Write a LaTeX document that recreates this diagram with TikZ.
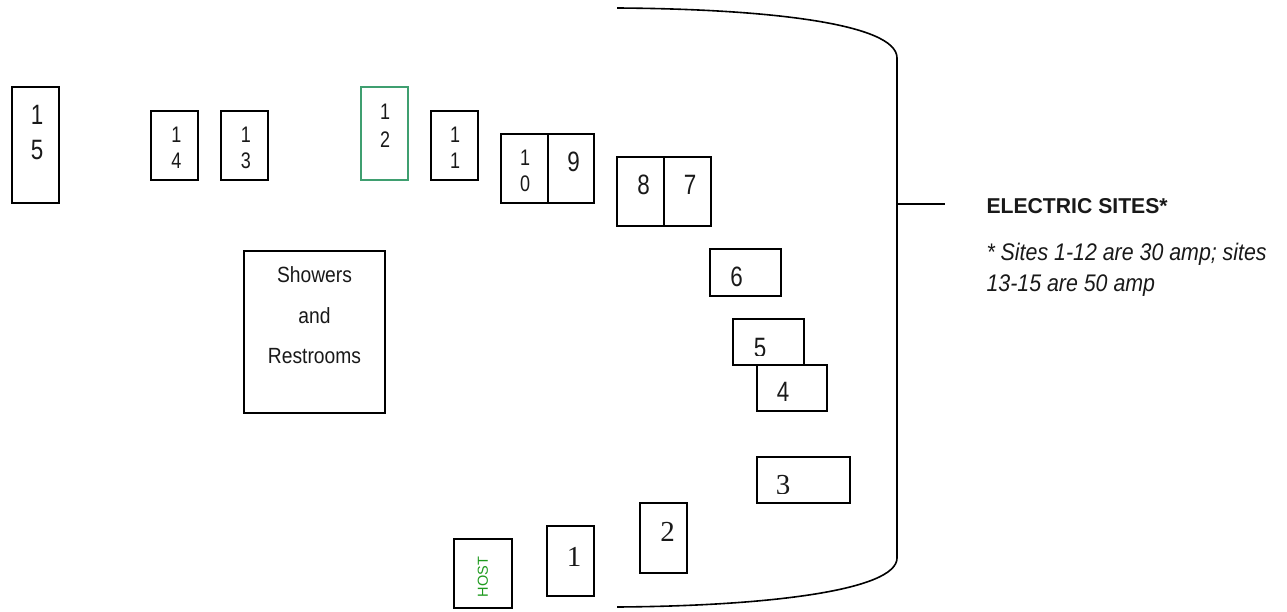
\documentclass[tikz,border=0pt]{standalone}
\usepackage{fontspec}
\usepackage{graphicx}
\setmainfont{Liberation Sans}
\newfontfamily\tnr{Liberation Serif}
\definecolor{sitegreen}{HTML}{3F9F70}
\definecolor{hostgreen}{HTML}{1E9A1E}
\newcommand{\nar}[1]{\scalebox{0.8}[1]{#1}}
\newcommand{\narr}[2]{\scalebox{#1}[1]{#2}}
\newcommand{\fs}[2]{\fontsize{#1}{#2}\selectfont}
% name, x1, y1, x2, y2, extra style
\newcommand{\bx}[6]{\node[sitebox,#6,minimum width={(#4-#2)*1pt},minimum height={(#5-#3)*1pt}] (#1) at ({(#2+#4)/2},{(#3+#5)/2}) {};}
% name, x, last baseline, size, leading, line1, line2
\newcommand{\twod}[7]{\node[numtext,align=center,font=\fs{#4}{#5}] (#1) at (#2,#3) {\nar{#6}\\\nar{#7}};}
% name, x, baseline, size, text
\newcommand{\oned}[5]{\node[numtext,font=\fs{#4}{#4}] (#1) at (#2,#3) {\nar{#5}};}
\newcommand{\serifd}[5]{\node[numtext,font=\fs{#4}{#4}\tnr] (#1) at (#2,#3) {#5};}
\tikzset{
  sitebox/.style={draw=black,line width=1.5pt,rectangle,inner sep=0pt,outer sep=0pt},
  numtext/.style={anchor=base,inner sep=0pt,outer sep=0pt,text=black!90},
  outline/.style={draw=black,line width=1.6pt}
}
\begin{document}
\begin{tikzpicture}[x=1pt,y=-1pt]
\useasboundingbox (0,0) rectangle (1287,612);
% outline
\draw[outline] (617,8) .. controls (770,9) and (897,24) .. (897,58) -- (897,558) .. controls (897,590) and (770,606) .. (617,607);
\coordinate (tap) at (897,204);
\coordinate (tapend) at (945,204);
\draw[outline] (tap) -- (tapend);
% boxes
\bx{s15}{12}{87}{59}{203}{}
\bx{s14}{151}{111}{198}{180}{}
\bx{s13}{221}{111}{268}{180}{}
\bx{s12}{361}{87}{408}{180}{draw=sitegreen}
\bx{s11}{431}{111}{478}{180}{}
\bx{s10}{501}{134}{548}{203}{}
\bx{s9}{548}{134}{594}{203}{}
\bx{s8}{617}{157}{664}{226}{}
\bx{s7}{664}{157}{711}{226}{}
\bx{s6}{710}{249}{781}{296}{}
\bx{s5}{733}{319}{804}{365}{}
\bx{s4}{757}{365}{827}{411}{}
\bx{s3}{757}{457}{850}{503}{}
\bx{s2}{640}{503}{687}{573}{}
\bx{s1}{547}{526}{594}{596}{}
\bx{host}{454}{539}{512}{608}{}
\bx{showers}{244}{251}{385}{413}{}
% labels
\twod{t15}{37}{160}{28}{35}{1}{5}
\twod{t14}{176.5}{169}{22.5}{26}{1}{4}
\twod{t13}{246}{169}{22.5}{26}{1}{3}
\twod{t12}{385}{148}{22.5}{28}{1}{2}
\twod{t11}{455}{169}{22.5}{26}{1}{1}
\twod{t10}{525}{192}{22.5}{26}{1}{0}
\oned{t9}{573.5}{171.7}{28}{9}
\oned{t8}{643.5}{195}{28}{8}
\oned{t7}{690}{195}{28}{7}
\begin{scope}
\clip (712,251) rectangle (779,286);
\oned{t6}{736.7}{287}{28}{6}
\end{scope}
\begin{scope}
\clip (735,320) rectangle (802,355);
\oned{t5}{760}{357}{28}{5}
\end{scope}
\oned{t4}{783}{401}{28}{4}
\begin{scope}
\clip (758,458) rectangle (848,493);
\serifd{t3}{783}{494}{29}{3}
\end{scope}
\serifd{t2}{667.7}{541.7}{29}{2}
\serifd{t1}{574}{566}{29}{1}
\node[anchor=center,rotate=90,inner sep=0pt,text=hostgreen,font=\fs{14.5}{14.5}] (hosttext) at (483,577) {HOST};
\node[numtext,font=\fs{22}{22}] (showers1) at (314.5,283) {\narr{0.875}{Showers}};
\node[numtext,font=\fs{22}{22}] (showers2) at (314.5,323) {\narr{0.875}{and}};
\node[numtext,font=\fs{22}{22}] (showers3) at (314.5,363) {\narr{0.875}{Restrooms}};
\node[numtext,anchor=base west,font=\fs{21.5}{21.5}\bfseries] (elec) at (986.5,213.5) {\narr{0.985}{ELECTRIC SITES*}};
\node[numtext,anchor=base west,font=\fs{24}{24}\itshape] (note1) at (986.5,261) {\narr{0.89}{* Sites 1-12 are 30 amp; sites}};
\node[numtext,anchor=base west,font=\fs{24}{24}\itshape] (note2) at (986.5,291.5) {\narr{0.89}{13-15 are 50 amp}};
\end{tikzpicture}
\end{document}
